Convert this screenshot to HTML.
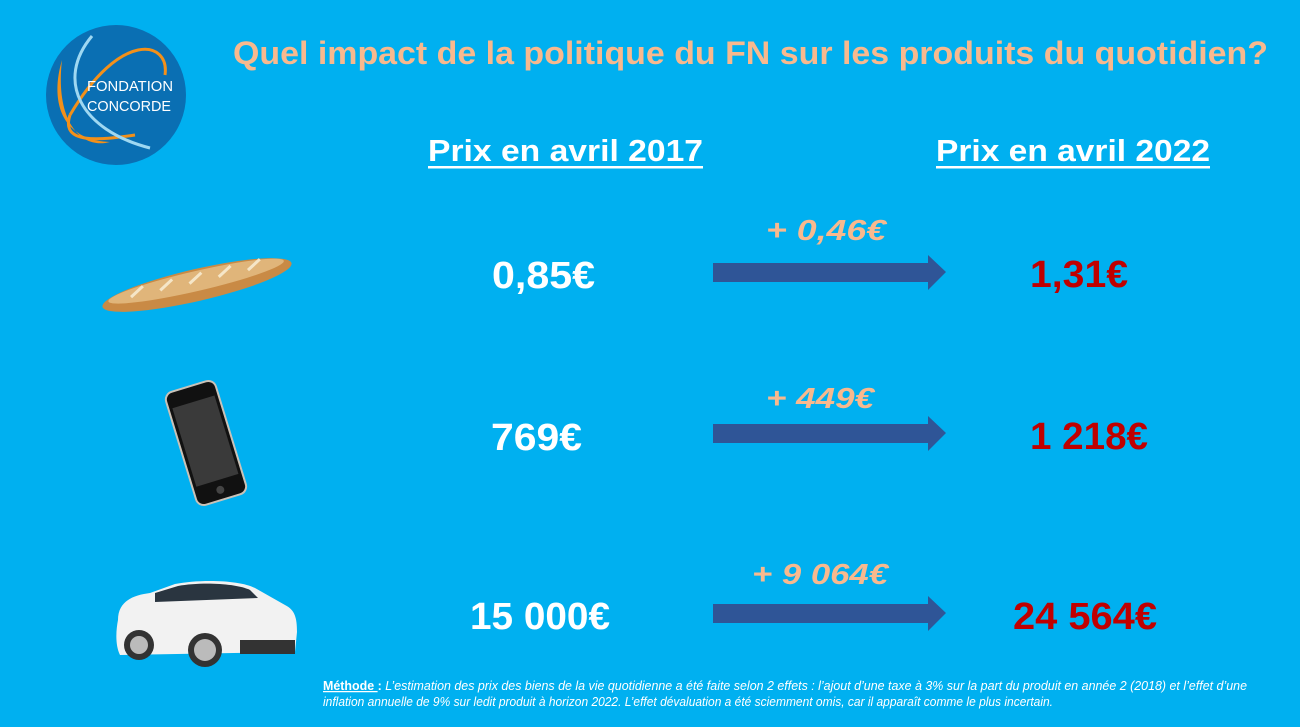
<!DOCTYPE html>
<html><head><meta charset="utf-8"><style>
html,body{margin:0;padding:0;background:#00B0F0;}
svg{display:block}
text{font-family:"Liberation Sans",sans-serif;}
</style></head><body>
<svg width="1300" height="727" viewBox="0 0 1300 727" xmlns="http://www.w3.org/2000/svg">
<rect width="1300" height="727" fill="#00B0F0"/>
<!-- logo -->
<circle cx="116" cy="95" r="70" fill="#0A6FB3"/>
<path d="M62,60 C50,100 60,140 110,142 C80,150 55,120 62,60 Z" fill="#F39019"/>
<path d="M70,115 C120,30 170,40 165,75" stroke="#F39019" stroke-width="3" fill="none"/>
<path d="M70,115 C60,145 100,140 135,135" stroke="#F39019" stroke-width="3" fill="none"/>
<path d="M92,36 C55,80 80,130 150,148" stroke="#9ED8F2" stroke-width="3" fill="none"/>
<text x="87" y="91" font-size="15" fill="#fff" textLength="86" lengthAdjust="spacingAndGlyphs">FONDATION</text>
<text x="87" y="111" font-size="15" fill="#fff" textLength="84" lengthAdjust="spacingAndGlyphs">CONCORDE</text>
<!-- title -->
<text x="233" y="64" font-size="32" font-weight="bold" fill="#F8B98E" textLength="1035" lengthAdjust="spacingAndGlyphs">Quel impact de la politique du FN sur les produits du quotidien?</text>
<text x="428" y="161" font-size="31" font-weight="bold" fill="#fff" textLength="275" lengthAdjust="spacingAndGlyphs">Prix en avril 2017</text>
<rect x="428" y="166" width="275" height="2.5" fill="#fff"/>
<text x="936" y="161" font-size="31" font-weight="bold" fill="#fff" textLength="274" lengthAdjust="spacingAndGlyphs">Prix en avril 2022</text>
<rect x="936" y="166" width="274" height="2.5" fill="#fff"/>
<!-- arrows -->
<g fill="#2F5597">
<path d="M713,263 H928 V255 L946,272 L928,290 V282 H713 Z"/>
<path d="M713,424 H928 V416 L946,433 L928,451 V443 H713 Z"/>
<path d="M713,604 H928 V596 L946,613 L928,631 V623 H713 Z"/>
</g>
<!-- values -->
<g font-weight="bold" font-size="38">
<text x="492" y="288" fill="#fff" textLength="103" lengthAdjust="spacingAndGlyphs">0,85€</text>
<text x="1030" y="287" fill="#C00000" textLength="98" lengthAdjust="spacingAndGlyphs">1,31€</text>
<text x="491" y="450" fill="#fff" textLength="91" lengthAdjust="spacingAndGlyphs">769€</text>
<text x="1030" y="449" fill="#C00000" textLength="118" lengthAdjust="spacingAndGlyphs">1 218€</text>
<text x="470" y="629" fill="#fff" textLength="140" lengthAdjust="spacingAndGlyphs">15 000€</text>
<text x="1013" y="629" fill="#C00000" textLength="144" lengthAdjust="spacingAndGlyphs">24 564€</text>
</g>
<g font-weight="bold" font-style="italic" font-size="29" fill="#F8B98E">
<text x="766" y="240" textLength="120" lengthAdjust="spacingAndGlyphs">+ 0,46€</text>
<text x="766" y="408" textLength="108" lengthAdjust="spacingAndGlyphs">+ 449€</text>
<text x="752" y="584" textLength="136" lengthAdjust="spacingAndGlyphs">+ 9 064€</text>
</g>
<!-- baguette -->
<g transform="rotate(-13 197 285)">
<ellipse cx="197" cy="285" rx="97" ry="16" fill="#C98A45"/>
<ellipse cx="197" cy="281" rx="90" ry="10" fill="#E0B57A"/>
<g stroke="#F5E6C8" stroke-width="3" fill="none">
<path d="M130,282 l14,-8"/><path d="M160,282 l14,-8"/><path d="M190,282 l14,-8"/><path d="M220,282 l14,-8"/><path d="M250,282 l14,-8"/>
</g>
</g>
<!-- phone -->
<g transform="rotate(-17 206 443)">
<rect x="180" y="384" width="52" height="118" rx="8" fill="#111" stroke="#C9C2B8" stroke-width="2"/>
<rect x="184" y="400" width="44" height="82" fill="#3A3A3A"/>
<circle cx="206" cy="492" r="4" fill="#444"/>
</g>
<!-- car -->
<path d="M118,620 C118,600 135,595 150,593 L175,584 C200,579 240,580 255,588 L285,605 C295,610 297,618 297,632 L295,652 L120,655 C115,645 116,630 118,620 Z" fill="#F2F2F2"/>
<path d="M155,593 L178,586 C200,582 235,583 250,590 L258,598 L155,602 Z" fill="#2A3540"/>
<circle cx="139" cy="645" r="15" fill="#333"/><circle cx="139" cy="645" r="9" fill="#bbb"/>
<circle cx="205" cy="650" r="17" fill="#333"/><circle cx="205" cy="650" r="11" fill="#bbb"/>
<rect x="240" y="640" width="55" height="14" fill="#333"/>
<!-- methode -->
<g font-size="12.5" font-style="italic" fill="#fff">
<text x="323" y="690" textLength="924" lengthAdjust="spacingAndGlyphs"><tspan font-weight="bold" font-style="normal" text-decoration="underline">Méthode </tspan><tspan font-weight="bold" font-style="normal">: </tspan>L’estimation des prix des biens de la vie quotidienne a été faite selon 2 effets : l’ajout d’une taxe à 3% sur la part du produit en année 2 (2018) et l’effet d’une</text>
<text x="323" y="706" textLength="730" lengthAdjust="spacingAndGlyphs">inflation annuelle de 9% sur ledit produit à horizon 2022. L’effet dévaluation a été sciemment omis, car il apparaît comme le plus incertain.</text>
</g>
</svg>
</body></html>
